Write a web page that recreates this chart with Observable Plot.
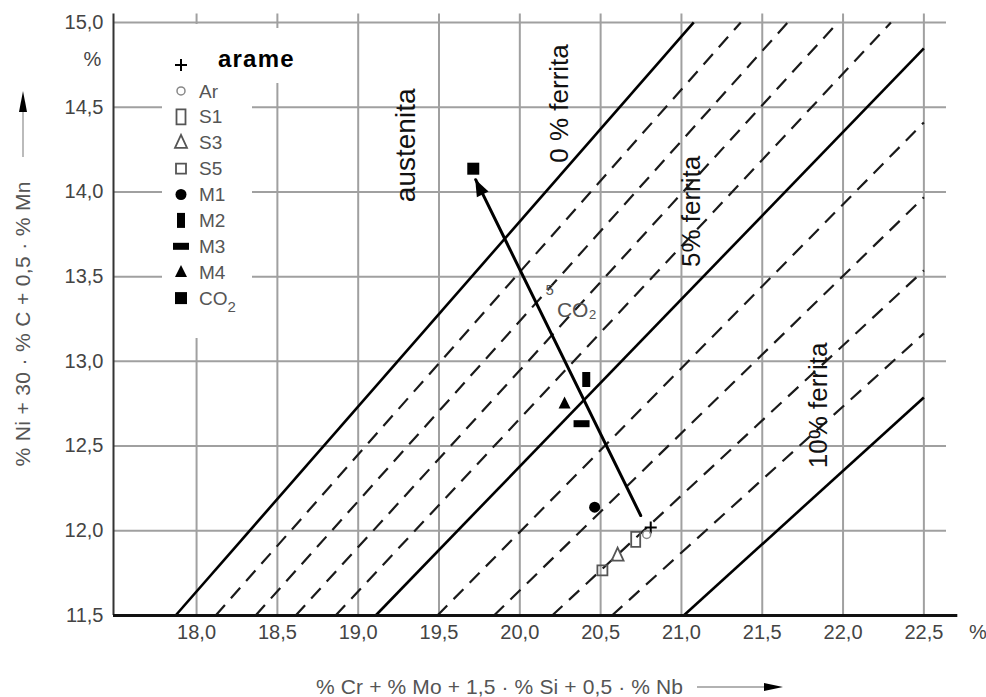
<!DOCTYPE html>
<html><head><meta charset="utf-8">
<script src="https://cdn.jsdelivr.net/npm/d3@7"></script>
<script src="https://cdn.jsdelivr.net/npm/@observablehq/plot@0.6"></script>
<style>body{margin:0;background:#fff;} svg{display:block}</style>
</head><body><div id="chart"></div>
<script>
// ---- data ----
const xTicks = [18.0, 18.5, 19.0, 19.5, 20.0, 20.5, 21.0, 21.5, 22.0, 22.5];
const yTicks = [11.5, 12.0, 12.5, 13.0, 13.5, 14.0, 14.5, 15.0];
// solid boundary lines [x1, y1, x2, y2]
const solidLines = [
  [17.870, 11.5, 21.076, 15.0],
  [19.108, 11.5, 22.500, 14.847],
  [21.014, 11.5, 22.500, 12.787]
];
// dashed iso-ferrite lines [x1, y1, x2, y2]
const dashedLines = [
  [18.118, 11.5, 21.367, 15.0],
  [18.365, 11.5, 21.658, 15.0],
  [18.613, 11.5, 21.968, 15.0],
  [18.860, 11.5, 22.296, 15.0],
  [19.490, 11.5, 22.500, 14.410],
  [19.840, 11.5, 22.500, 13.968],
  [20.200, 11.5, 22.500, 13.537],
  [20.570, 11.5, 22.500, 13.165]
];
// samples
const samples = ["arame", "Ar", "S1", "S3", "S5", "M1", "M2", "M3", "M4", "CO2"];
const sampleX = [20.810, 20.785, 20.717, 20.605, 20.511, 20.463, 20.411, 20.382, 20.277, 19.712];
const sampleY = [12.020, 11.978, 11.949, 11.854, 11.766, 12.139, 12.893, 12.632, 12.750, 14.137];
// trend arrow (from, to)
const trendArrow = [[20.748, 12.090, 19.727, 14.072]];
// rotated region labels
const regionLabels = ["austenita", "0 % ferrita", "5% ferrita", "10% ferrita"];
const regionX = [19.294, 20.247, 21.064, 21.850];
const regionY = [14.275, 14.522, 13.885, 12.740];
// small labels in the field
const fieldLabels = ["CO₂", "5"];
const fieldX = [20.352, 20.185];
const fieldY = [13.300, 13.418];

const xDomain = [17.486, 22.64];
const yDomain = [11.5, 15.05];
const fmt = d => d.toFixed(1).replace(".", ",");

// ---- symbols (styles) ----
const rectSym = (w, h) => ({draw(ctx) {
  ctx.moveTo(-w/2, -h/2); ctx.lineTo(w/2, -h/2); ctx.lineTo(w/2, h/2); ctx.lineTo(-w/2, h/2); ctx.closePath();
}});
const triSym = (w, h) => ({draw(ctx) {
  ctx.moveTo(0, -h*0.6); ctx.lineTo(w/2, h*0.4); ctx.lineTo(-w/2, h*0.4); ctx.closePath();
}});
const circSym = (d) => ({draw(ctx) { ctx.moveTo(d/2, 0); ctx.arc(0, 0, d/2, 0, 2*Math.PI); }});
const plusSym = (s) => ({draw(ctx) { ctx.moveTo(-s/2, 0); ctx.lineTo(s/2, 0); ctx.moveTo(0, -s/2); ctx.lineTo(0, s/2); }});

const styles = {
  "arame": {symbol: plusSym(12), fill: "none", stroke: "#000", strokeWidth: 2},
  "Ar":    {symbol: circSym(8), fill: "none", stroke: "#888", strokeWidth: 1.5},
  "S1":    {symbol: rectSym(9, 15), fill: "none", stroke: "#555", strokeWidth: 1.8},
  "S3":    {symbol: triSym(12, 13), fill: "none", stroke: "#555", strokeWidth: 1.8},
  "S5":    {symbol: rectSym(10, 10), fill: "none", stroke: "#555", strokeWidth: 1.8},
  "M1":    {symbol: circSym(11), fill: "#000", stroke: "none"},
  "M2":    {symbol: rectSym(8, 15), fill: "#000", stroke: "none"},
  "M3":    {symbol: rectSym(16, 7), fill: "#000", stroke: "none"},
  "M4":    {symbol: triSym(12, 12), fill: "#000", stroke: "none"},
  "CO2":   {symbol: rectSym(12, 12), fill: "#000", stroke: "none"}
};

const pts = samples.map((s, i) => ({s, x: sampleX[i], y: sampleY[i]}));
const regions = regionLabels.map((t, i) => ({t, x: regionX[i], y: regionY[i]}));
const fields = fieldLabels.map((t, i) => ({t, x: fieldX[i], y: fieldY[i]}));

const dotMarks = samples.map(s => Plot.dot(pts.filter(d => d.s === s), {
  x: "x", y: "y", r: 1, ...styles[s]
}));

const plot = Plot.plot({
  width: 986, height: 697,
  marginLeft: 113, marginRight: 40, marginTop: 13.5, marginBottom: 82,
  x: {domain: xDomain, axis: null},
  y: {domain: yDomain, axis: null},
  style: {fontFamily: "'Liberation Sans', Arial, sans-serif", background: "#fff", overflow: "visible"},
  marks: [
    Plot.ruleY(yTicks, {stroke: "#a0a0a0", strokeWidth: 2}),
    Plot.ruleX(xTicks, {stroke: "#a0a0a0", strokeWidth: 2}),
    Plot.link(dashedLines, {x1: d => d[0], y1: d => d[1], x2: d => d[2], y2: d => d[3],
      stroke: "#1a1a1a", strokeWidth: 2.2, strokeDasharray: "14,9"}),
    Plot.link(solidLines, {x1: d => d[0], y1: d => d[1], x2: d => d[2], y2: d => d[3],
      stroke: "#000", strokeWidth: 2.6}),
    Plot.ruleX([xDomain[0]], {stroke: "#333", strokeWidth: 2}),
    Plot.ruleY([11.5], {x1: xDomain[0], x2: 22.71, stroke: "#111", strokeWidth: 3}),
    Plot.arrow(trendArrow, {x1: d => d[0], y1: d => d[1], x2: d => d[2], y2: d => d[3],
      stroke: "#000", strokeWidth: 3, headLength: 0}),
    ...dotMarks,
    Plot.text(regions, {x: "x", y: "y", text: "t", rotate: -90,
      fontSize: d => d.t === "austenita" ? 28 : 26, fill: "#111"}),
    Plot.text(fields, {x: "x", y: "y", text: "t", fontSize: d => d.t === "5" ? 15 : 21, fill: "#555"}),
    Plot.text(xTicks, {x: d => d, frameAnchor: "bottom", dy: 23, text: fmt, fontSize: 20, fill: "#444"}),
    Plot.text(["%"], {x: 22.5, frameAnchor: "bottom", dx: 54, dy: 23, text: d => d, fontSize: 20, fill: "#444"}),
    Plot.text(yTicks, {y: d => d, frameAnchor: "left", dx: -10, textAnchor: "end", text: fmt, fontSize: 20, fill: "#444"}),
    Plot.text(["%"], {y: 14.78, frameAnchor: "left", dx: -30, text: d => d, fontSize: 20, fill: "#444"})
  ]
});

document.getElementById("chart").appendChild(plot);

const svg = d3.select(plot);
const sx = plot.scale("x"), sy = plot.scale("y");

// filled arrow head at the end of the trend arrow
{
  const [a, b, c, d] = trendArrow[0];
  const x1 = sx.apply(a), y1 = sy.apply(b), x2 = sx.apply(c), y2 = sy.apply(d);
  const ang = Math.atan2(y2 - y1, x2 - x1);
  const L = 17, W = 6.5;
  const bx = x2 - L * Math.cos(ang), by = y2 - L * Math.sin(ang);
  const px = -Math.sin(ang), py = Math.cos(ang);
  svg.append("path")
    .attr("d", `M${x2},${y2}L${bx + W*px},${by + W*py}L${bx - W*px},${by - W*py}Z`)
    .attr("fill", "#000");
}

// ---- legend ----
const lg = svg.append("g").attr("text-anchor", "start");
lg.append("rect").attr("x", 162).attr("y", 24).attr("width", 90).attr("height", 314).attr("fill", "#fff");
lg.append("rect").attr("x", 212).attr("y", 28).attr("width", 92).attr("height", 55).attr("fill", "#fff");
samples.forEach((s, i) => {
  const y = 65 + 25.9 * i;
  const st = styles[s];
  const p = d3.path(); st.symbol.draw(p, Math.PI);
  lg.append("path").attr("transform", `translate(181,${y})`).attr("d", p.toString())
    .attr("fill", st.fill).attr("stroke", st.stroke).attr("stroke-width", st.strokeWidth || 0);
  if (s === "arame") {
    lg.append("text").attr("x", 218).attr("y", y - 6).attr("dy", "0.35em")
      .attr("font-size", 24).attr("font-weight", "bold").attr("letter-spacing", 1.2)
      .attr("fill", "#000").text("arame");
  } else {
    const t = lg.append("text").attr("x", 199).attr("y", y).attr("dy", "0.35em")
      .attr("font-size", 19).attr("fill", "#555");
    if (s === "CO2") {
      t.append("tspan").text("CO");
      t.append("tspan").attr("dy", "0.45em").attr("font-size", 15).text("2");
    } else t.text(s);
  }
});

// ---- axis titles ----
svg.append("text").attr("transform", "translate(23,324) rotate(-90)")
  .attr("text-anchor", "middle").attr("dy", "0.35em").attr("font-size", 21).attr("fill", "#555")
  .attr("textLength", 285).attr("lengthAdjust", "spacing")
  .text("% Ni + 30 · % C + 0,5 · % Mn");
svg.append("line").attr("x1", 23).attr("x2", 23).attr("y1", 157).attr("y2", 106)
  .attr("stroke", "#bbb").attr("stroke-width", 2);
svg.append("path").attr("d", "M23,91 L27,112 L19,112 Z").attr("fill", "#000");

svg.append("text").attr("x", 316).attr("y", 687).attr("dy", "0.35em")
  .attr("text-anchor", "start").attr("font-size", 21).attr("fill", "#555")
  .attr("textLength", 367).attr("lengthAdjust", "spacing")
  .text("% Cr + % Mo + 1,5 · % Si + 0,5 · % Nb");
svg.append("line").attr("x1", 697).attr("x2", 768).attr("y1", 687).attr("y2", 687)
  .attr("stroke", "#999").attr("stroke-width", 1.5);
svg.append("path").attr("d", "M783,687 L764,683 L764,691 Z").attr("fill", "#000");
</script>
</body></html>
